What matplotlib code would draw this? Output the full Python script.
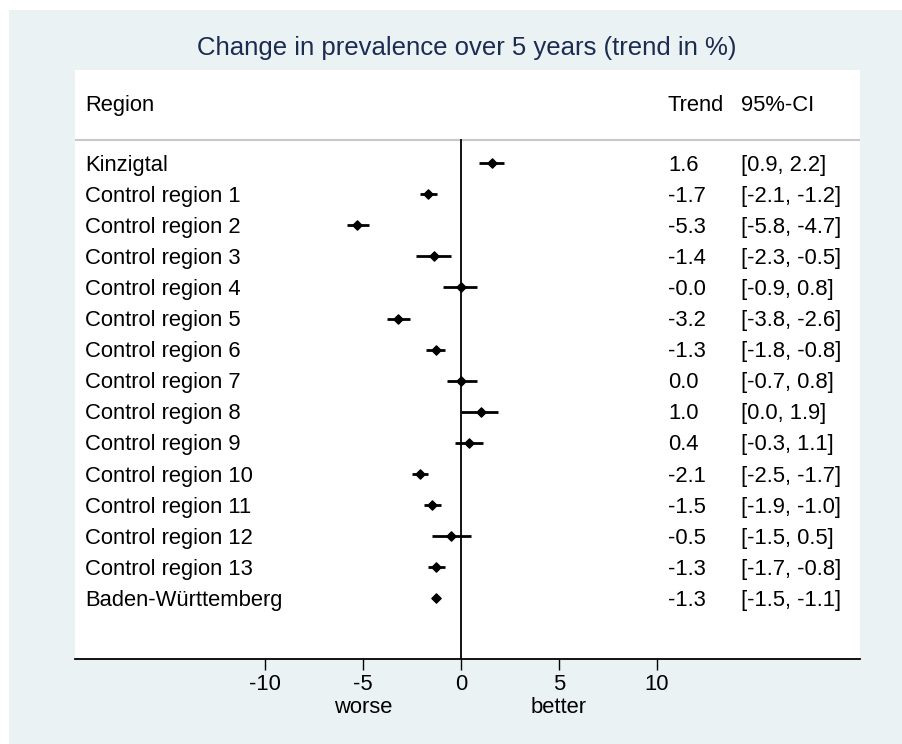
import matplotlib
matplotlib.use("Agg")
from matplotlib import pyplot as plt
from matplotlib.patches import Rectangle

plt.rcParams['font.family'] = ['Liberation Sans', 'DejaVu Sans']

# data
regions = ["Kinzigtal"] + ["Control region %d" % i for i in range(1, 14)] + ["Baden-Württemberg"]
trend = [1.6, -1.7, -5.3, -1.4, -0.0, -3.2, -1.3, 0.0, 1.0, 0.4, -2.1, -1.5, -0.5, -1.3, -1.3]
ci_low = [0.9, -2.1, -5.8, -2.3, -0.9, -3.8, -1.8, -0.7, 0.0, -0.3, -2.5, -1.9, -1.5, -1.7, -1.5]
ci_high = [2.2, -1.2, -4.7, -0.5, 0.8, -2.6, -0.8, 0.8, 1.9, 1.1, -1.7, -1.0, 0.5, -0.8, -1.1]
trend_labels = ["1.6", "-1.7", "-5.3", "-1.4", "-0.0", "-3.2", "-1.3", "0.0", "1.0", "0.4",
                "-2.1", "-1.5", "-0.5", "-1.3", "-1.3"]
xticks = [-10, -5, 0, 5, 10]

W, H = 903, 744
fig = plt.figure(figsize=(W / 100, H / 100), dpi=100)
fig.patch.set_facecolor("white")
fig.patches.append(Rectangle((9 / W, 0), 1 - 9 / W, 1 - 10 / H, transform=fig.transFigure,
                             facecolor="#eaf2f3", edgecolor="none", zorder=-10))

ax = fig.add_axes([75 / W, 1 - 659 / H, (860 - 75) / W, (659 - 70) / H])
ax.set_facecolor("white")
ax.set_zorder(1)

# x scale: 0 at px 461, 19.6 px per unit
x0, ppu = 461, 19.6
ax.set_xlim((75 - x0) / ppu, (860 - x0) / ppu)
ax.set_ylim(15.96, -3.0)

fs = 15.8
rows = list(range(len(regions)))
for i in rows:
    ax.plot([ci_low[i], ci_high[i]], [i, i], color="black", lw=2, solid_capstyle="butt", zorder=3)
ax.scatter(trend, rows, marker="D", s=22, color="black", zorder=4)

ax.plot([0, 0], [-0.75, 15.96], color="black", lw=1.3, zorder=2)
ax.axhline(-0.75, color="#c8c8c8", lw=1.5, zorder=1)

xl = (85 - x0) / ppu
xt = (668 - x0) / ppu
xc = (741 - x0) / ppu
dy = 0.07  # text sits a touch below the marker line
ax.text(xl, -2 + 2 * dy, "Region", fontsize=fs, va="center", ha="left")
ax.text(xt, -2 + 2 * dy, "Trend", fontsize=fs, va="center", ha="left")
ax.text(xc, -2 + 2 * dy, "95%-CI", fontsize=fs, va="center", ha="left")
for i in rows:
    ax.text(xl, i + dy, regions[i], fontsize=fs, va="center", ha="left")
    ax.text(xt, i + dy, trend_labels[i], fontsize=fs, va="center", ha="left")
    ax.text(xc, i + dy, "[%.1f, %.1f]" % (ci_low[i], ci_high[i]), fontsize=fs, va="center", ha="left")

for s in ["left", "right", "top"]:
    ax.spines[s].set_visible(False)
ax.spines["bottom"].set_linewidth(1.3)
ax.set_yticks([])
ax.set_xticks(xticks)
ax.set_xticklabels([str(t) for t in xticks])
ax.tick_params(axis="x", length=8, width=1, labelsize=fs, pad=3)

# worse / better below the tick labels
yb = -(697 - 659) / (659 - 70)
ax.text(-5, yb, "worse", transform=ax.get_xaxis_transform(), fontsize=fs, ha="center", va="top")
ax.text(5, yb, "better", transform=ax.get_xaxis_transform(), fontsize=fs, ha="center", va="top")

fig.text(467 / W, 1 - 48 / H, "Change in prevalence over 5 years (trend in %)", fontsize=18.5,
         color="#1c2b52", ha="center", va="center")

fig.savefig("out.png", dpi=100)
